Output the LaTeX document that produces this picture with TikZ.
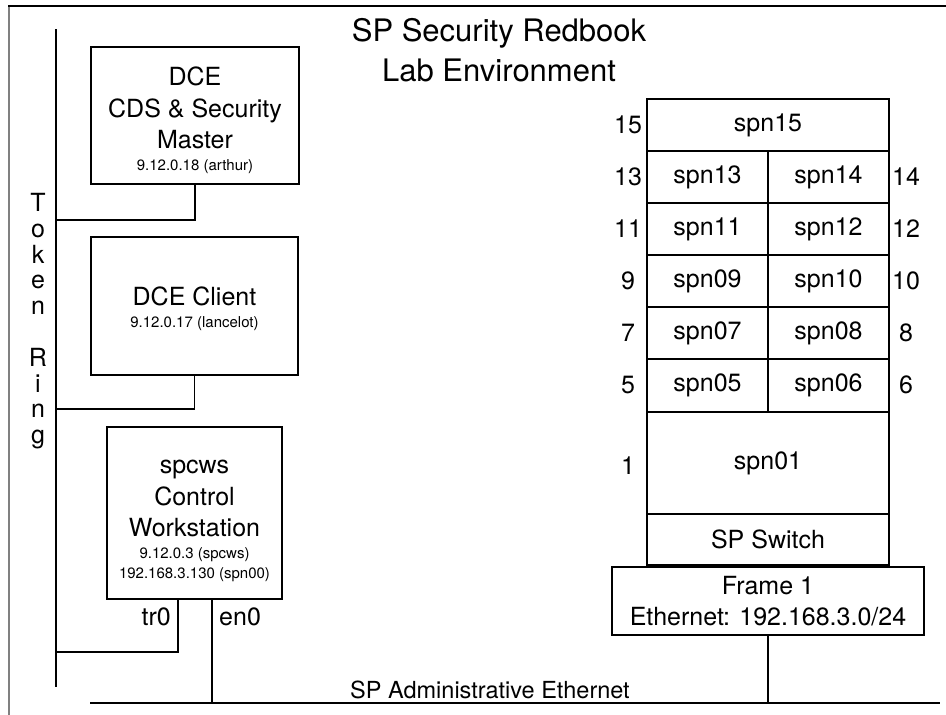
\documentclass[tikz,border=0pt]{standalone}
\usepackage{fontspec}
\setmainfont{TeX Gyre Heros}
\usetikzlibrary{positioning}

\newcommand{\bigtxt}{\fontsize{25}{31.5}\selectfont}
\newcommand{\iptxt}{\fontsize{15}{20}\selectfont}
\newcommand{\titletxt}{\fontsize{31}{40}\selectfont}
\newcommand{\ringtxt}{\fontsize{25}{25.8}\selectfont}
\newcommand{\topgap}[1]{\rule{0pt}{#1}}

\tikzset{
  host/.style={rectangle,draw=black,line width=1.6pt,align=center,font=\bigtxt,inner sep=0pt},
  cell/.style={rectangle,draw=black,line width=1.6pt,font=\bigtxt,minimum width=121pt,minimum height=52pt,inner sep=0pt},
  slot/.style={font=\bigtxt,inner sep=0pt},
  wire/.style={line width=1.6pt},
}

\begin{document}
\begin{tikzpicture}[x=1pt,y=-1pt]
\useasboundingbox (0,0) rectangle (946,715);
% page frame
\draw[line width=1.5pt,black!50] (9,6) -- (9,715);
\draw[line width=1.5pt] (8,6) -- (946,6);

% title
\node[font=\titletxt,align=center,inner sep=0pt] (title) at (499,50) {SP Security Redbook\\Lab Environment};

% token ring
\coordinate (ringtop) at (56,29);
\coordinate (ringbot) at (56,687);
\draw[wire] (ringtop) -- (ringbot);
\node[font=\ringtxt,align=center,inner sep=0pt,anchor=north] (ringlbl) at (38,193) {T\\o\\k\\e\\n\\\mbox{}\\R\\i\\n\\g};

% hosts
\node[host,minimum width=208pt,minimum height=137pt] (master) at (195,115.5)
  {\topgap{28pt}DCE\\CDS \& Security\\Master\\[-10pt]{\iptxt 9.12.0.18 (arthur)}};
\node[host,minimum width=207pt,minimum height=138pt] (client) at (194.5,306)
  {\topgap{24pt}DCE Client\\[-10pt]{\iptxt 9.12.0.17 (lancelot)}};
\node[host,minimum width=175pt,minimum height=172pt] (cws) at (194.5,513)
  {\topgap{29pt}spcws\\Control\\Workstation\\[-10pt]{\iptxt 9.12.0.3 (spcws)}\\[-11.5pt]{\iptxt 192.168.3.130 (spn00)}};

\coordinate (mtap) at (56,220);
\coordinate (ctap) at (56,409);
\coordinate (ttap) at (56,652);
\draw[wire] (master.south) |- (mtap);
\draw[wire] (client.south) |- (ctap);
\draw[wire] ([xshift=-16.5pt]cws.south) |- (ttap);
\node[slot,anchor=east] (tr0) at (171,617) {tr0};
\node[slot,anchor=west] (en0) at (219,617) {en0};

% ethernet
\coordinate (ethL) at (90,703);
\coordinate (ethR) at (940,703);
\coordinate (etap) at (212,703);
\coordinate (ftap) at (768,703);
\draw[wire] (ethL) -- (ethR);
\draw[wire] ([xshift=17.5pt]cws.south) -- (etap);
\node[font=\fontsize{23.5}{28}\selectfont,inner sep=0pt] (ethlbl) at (490,690) {SP Administrative Ethernet};

% frame
\node[cell,minimum width=242pt] (spn15) at (768,125) {spn15};
\node[cell] (spn13) at (707.5,177) {spn13};
\node[cell] (spn14) at (828.5,177) {spn14};
\node[cell] (spn11) at (707.5,229) {spn11};
\node[cell] (spn12) at (828.5,229) {spn12};
\node[cell] (spn09) at (707.5,281) {spn09};
\node[cell] (spn10) at (828.5,281) {spn10};
\node[cell] (spn07) at (707.5,333) {spn07};
\node[cell] (spn08) at (828.5,333) {spn08};
\node[cell] (spn05) at (707.5,385.5) {spn05};
\node[cell] (spn06) at (828.5,385.5) {spn06};
\node[cell,minimum width=242pt,minimum height=102pt] (spn01) at (768,463) {spn01};
\node[cell,minimum width=242pt,minimum height=51pt] (switch) at (768,539.5) {SP Switch};
\node[cell,minimum width=312pt,minimum height=68pt,align=center] (frame1) at (768,601) {Frame 1\\Ethernet: 192.168.3.0/24};
\draw[wire] (frame1.south) -- (ftap);

% slot numbers
\node[slot] (n15) at (628,125) {15};
\node[slot] (n13) at (628,177) {13};
\node[slot] (n11) at (628,229) {11};
\node[slot] (n9)  at (628,281) {9};
\node[slot] (n7)  at (628,333) {7};
\node[slot] (n5)  at (628,385) {5};
\node[slot] (n1)  at (628,466) {1};
\node[slot] (n14) at (906,177) {14};
\node[slot] (n12) at (906,229) {12};
\node[slot] (n10) at (906,281) {10};
\node[slot] (n8)  at (906,333) {8};
\node[slot] (n6)  at (906,385) {6};
\end{tikzpicture}
\end{document}
